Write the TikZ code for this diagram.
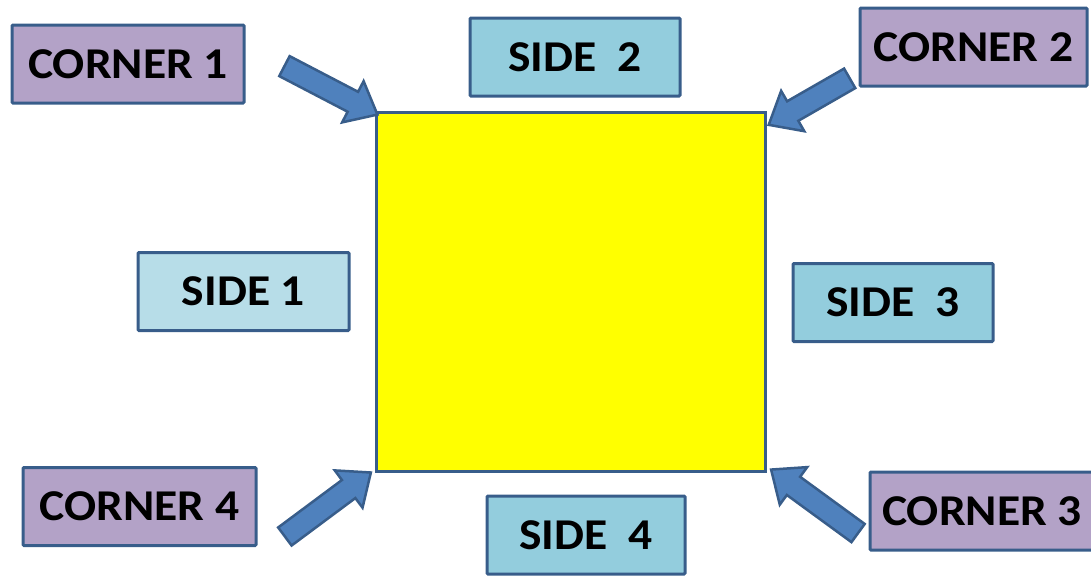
\documentclass[tikz,border=0pt]{standalone}
\usepackage{fontspec}
\setmainfont{Carlito}
\newfontfamily\boxfont[FakeStretch=1.08]{Carlito}
\usetikzlibrary{shapes.arrows,calc}
\definecolor{lilac}{HTML}{B3A2C7}
\definecolor{paleblue}{HTML}{B7DDE8}
\definecolor{skyblue}{HTML}{93CDDD}
\definecolor{edgeblue}{HTML}{385D8A}
\definecolor{arrowblue}{HTML}{4F81BD}
\definecolor{sqyellow}{RGB}{255,255,0}
\tikzset{
every picture/.style={
line width=3pt
},
label box/.style={draw=edgeblue, rounded corners=1pt, inner sep=0pt, minimum height=78pt,
  font=\boxfont\fontsize{44}{50}\selectfont\bfseries},
corner box/.style={label box, fill=lilac},
side box/.style={label box, fill=skyblue},
block arrow/.style={single arrow, draw=edgeblue, fill=arrowblue, line width=2.5pt,
  inner xsep=0pt, inner ysep=10pt, single arrow head extend=12pt, single arrow tip angle=80,
  single arrow head indent=0pt}
}

\begin{document}
\begin{tikzpicture}[x=1pt,y=-1pt]
\useasboundingbox (0,0) rectangle (1091,576);

\node [draw=edgeblue, fill=sqyellow, inner sep=0pt, minimum width=389pt, minimum height=359pt] (square) at (570.5,291.5) {};

\foreach \name/\x/\y/\w/\txt in {c1/128/64/232/CORNER 1, c2/973.5/47/227/CORNER 2,
                                 c3/982/511/224/CORNER 3, c4/139.5/506.5/233/CORNER 4}{
  \node [corner box, minimum width=\w pt] (\name) at (\x,\y) {\txt};
}
\foreach \name/\x/\y/\w/\txt in {s2/575/57/210/SIDE~~2, s3/893/302.5/200/SIDE~~3, s4/586/535/198/SIDE~~4}{
  \node [side box, minimum width=\w pt] (\name) at (\x,\y) {\txt};
}
\node [side box, fill=paleblue, minimum width=211pt] (s1) at (243.5,291.5) {SIDE 1};

\coordinate (t1) at ($(c1.east)+(33,-1)$);
\coordinate (h1) at ($(square.north west)+(-3,1)$);
\coordinate (t2) at ($(c2.west)+(-3,28)$);
\coordinate (h2) at ($(square.north east)+(8,11)$);
\coordinate (t3) at ($(c3.west)+(-5,26)$);
\coordinate (h3) at ($(square.south east)+(10,1)$);
\coordinate (t4) at ($(c4.east)+(22,34)$);
\coordinate (h4) at ($(square.south west)+(-9,4)$);

\foreach \t/\h in {t1/h1, t2/h2, t3/h3, t4/h4}{
  \path let \p1=(\t), \p2=(\h), \n1={atan2(\y2-\y1,\x2-\x1)}, \n2={veclen(\x2-\x1,\y2-\y1)} in
    node [block arrow, minimum height=\n2, rotate=\n1] (a\t) at ($(\p1)!0.5!(\p2)$) {};
}

\end{tikzpicture}
\end{document}
